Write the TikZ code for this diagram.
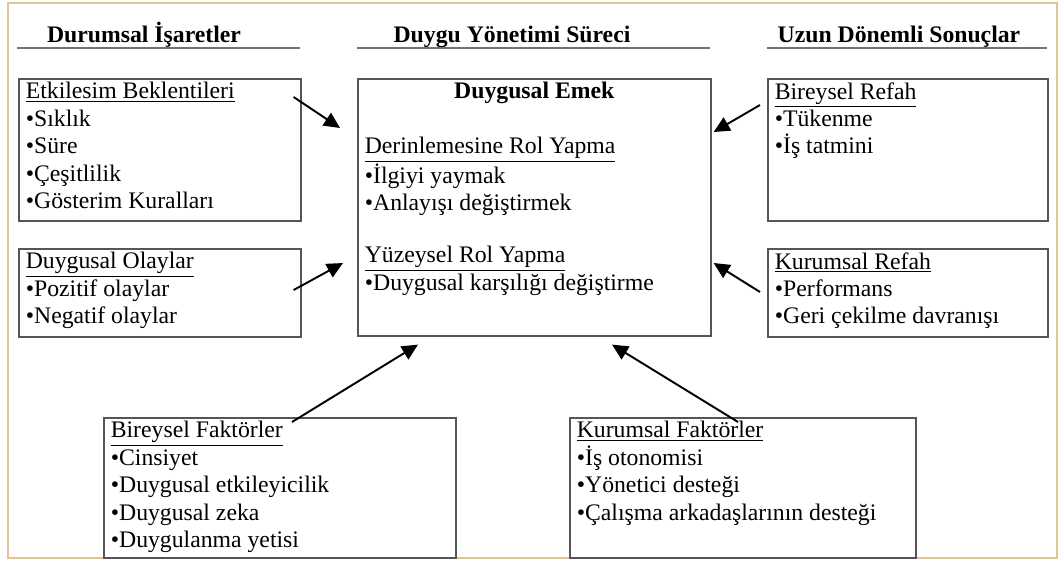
\documentclass[tikz,border=0pt]{standalone}
\usepackage{fontspec}
\setmainfont{Liberation Serif}
\usepackage{xcolor}
\usepackage{tikz}
\usetikzlibrary{arrows.meta}
\definecolor{framecol}{RGB}{226,196,150}
\definecolor{boxcol}{RGB}{85,85,85}
\definecolor{rulecol}{RGB}{115,115,115}
\tikzstyle{box}=[draw=boxcol, line width=0.9pt, anchor=north west, inner xsep=4pt, inner ysep=2pt]
\tikzstyle{head}=[font=\fontsize{13.5}{15.6}\selectfont\bfseries, inner sep=0pt, anchor=base]
\tikzstyle{head rule}=[-, draw=rulecol, line width=1.2pt]
\tikzstyle{arrow}=[-{Triangle[length=0.32cm,width=0.3cm]}, draw=black, line width=1.1pt]
\newcommand{\inbox}[3]{\parbox[t][#2][t]{#1}{\raggedright #3}}

\begin{document}
\begin{tikzpicture}[font=\fontsize{13.5}{15.6}\selectfont]
	\useasboundingbox (0,0) rectangle (21.18,-11.22);
	\draw [draw=framecol, line width=1.5pt] (0.16,-0.06) rectangle (21.14,-11.16);

	\node [style=head] (h1) at (2.88,-0.84) {Durumsal İşaretler};
	\node [style=head] (h2) at (10.24,-0.84) {Duygu Yönetimi Süreci};
	\node [style=head] (h3) at (17.98,-0.84) {Uzun Dönemli Sonuçlar};
	\draw [style=head rule] (0.34,-0.96) -- (6.0,-0.96);
	\draw [style=head rule] (7.14,-0.96) -- (14.2,-0.96);
	\draw [style=head rule] (15.34,-0.96) -- (20.94,-0.96);

	\node [style=box] (etk) at (0.36,-1.56) {\inbox{5.36cm}{2.70cm}{\underline{Etkilesim Beklentileri}\\ •Sıklık\\ •Süre\\ •Çeşitlilik\\ •Gösterim Kuralları}};
	\node [style=box] (olay) at (0.36,-4.96) {\inbox{5.36cm}{1.62cm}{\underline{Duygusal Olaylar}\\ •Pozitif olaylar\\ •Negatif olaylar}};
	\node [style=box] (emek) at (7.14,-1.56) {\inbox{6.78cm}{5.0cm}{{\centering\textbf{Duygusal Emek}\par}\vspace{\baselineskip}\underline{Derinlemesine Rol Yapma}\\ •İlgiyi yaymak\\ •Anlayışı değiştirmek\\[14pt] \underline{Yüzeysel Rol Yapma}\\ •Duygusal karşılığı değiştirme}};
	\node [style=box] (brefah) at (15.34,-1.56) {\inbox{5.32cm}{2.70cm}{\underline{Bireysel Refah}\\ •Tükenme\\ •İş tatmini}};
	\node [style=box] (krefah) at (15.34,-4.96) {\inbox{5.32cm}{1.62cm}{\underline{Kurumsal Refah}\\ •Performans\\ •Geri çekilme davranışı}};
	\node [style=box] (bfak) at (2.06,-8.34) {\inbox{6.76cm}{2.66cm}{\underline{Bireysel Faktörler}\\ •Cinsiyet\\ •Duygusal etkileyicilik\\ •Duygusal zeka\\ •Duygulanma yetisi}};
	\node [style=box] (kfak) at (11.38,-8.34) {\inbox{6.64cm}{2.66cm}{\underline{Kurumsal Faktörler}\\ •İş otonomisi\\ •Yönetici desteği\\ •Çalışma arkadaşlarının desteği}};

	\draw [style=arrow] ([shift={(-0.16,-0.38)}]etk.north east) -- ([shift={(-0.34,-1.0)}]emek.north west);
	\draw [style=arrow] ([shift={(-0.16,-0.84)}]olay.north east) -- ([shift={(-0.28,-3.70)}]emek.north west);
	\draw [style=arrow] ([shift={(-0.14,-0.54)}]brefah.north west) -- ([shift={(0.04,-1.08)}]emek.north east);
	\draw [style=arrow] ([shift={(-0.14,-0.88)}]krefah.north west) -- ([shift={(0.04,-3.70)}]emek.north east);
	\draw [style=arrow] ([shift={(3.78,-0.1)}]bfak.north west) -- ([shift={(1.22,-0.16)}]emek.south west);
	\draw [style=arrow] ([shift={(3.38,-0.1)}]kfak.north west) -- ([shift={(5.10,-0.16)}]emek.south west);
\end{tikzpicture}
\end{document}
